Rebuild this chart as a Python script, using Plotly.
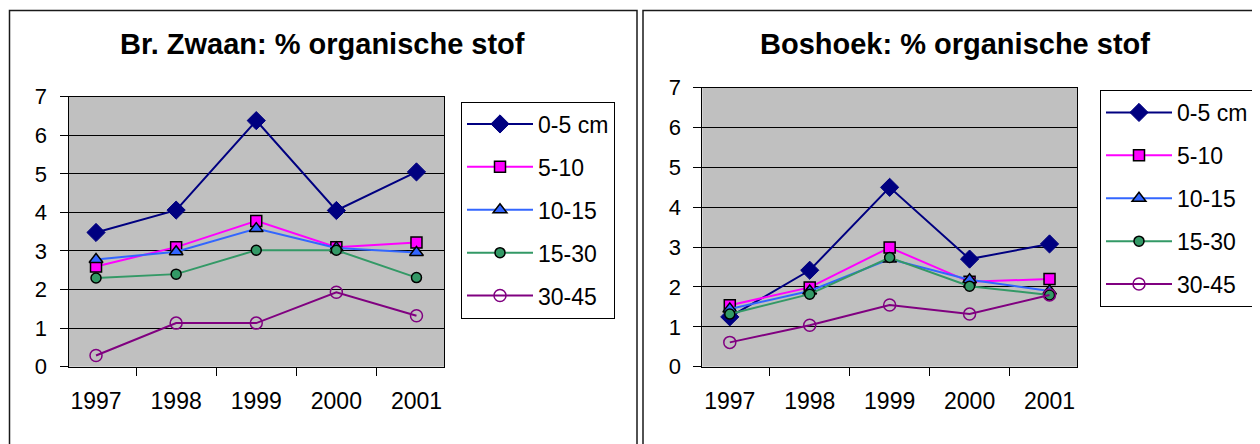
import plotly.graph_objects as go

years = ["1997", "1998", "1999", "2000", "2001"]
series_names = ["0-5 cm", "5-10", "10-15", "15-30", "30-45"]

zwaan_0_5 = [3.48, 4.06, 6.38, 4.05, 5.05]
zwaan_5_10 = [2.6, 3.1, 3.78, 3.1, 3.22]
zwaan_10_15 = [2.78, 2.98, 3.58, 3.08, 2.96]
zwaan_15_30 = [2.3, 2.4, 3.02, 3.02, 2.31]
zwaan_30_45 = [0.29, 1.13, 1.13, 1.93, 1.32]

boshoek_0_5 = [1.25, 2.42, 4.5, 2.7, 3.08]
boshoek_5_10 = [1.54, 1.99, 2.99, 2.13, 2.2]
boshoek_10_15 = [1.45, 1.9, 2.7, 2.18, 1.9]
boshoek_15_30 = [1.32, 1.82, 2.74, 2.02, 1.8]
boshoek_30_45 = [0.61, 1.04, 1.55, 1.32, 1.8]

titles = ["Br. Zwaan: % organische stof", "Boshoek: % organische stof"]

# page has an 8px body margin; the figure fills the rest of the 1260x444 window
OFF = 8
W, H = 1260 - OFF, 444 - OFF
FONT = "Liberation Sans, Arial, sans-serif"

styles = [
    dict(line=dict(color="#000080", width=2),
         marker=dict(symbol="diamond", size=14, color="#000080", line=dict(color="#000080", width=1))),
    dict(line=dict(color="#FF00FF", width=2),
         marker=dict(symbol="square", size=11, color="#FF00FF", line=dict(color="#000000", width=1.5))),
    dict(line=dict(color="#3366FF", width=2),
         marker=dict(symbol="triangle-up", size=12, color="#3366FF", line=dict(color="#000000", width=1.5))),
    dict(line=dict(color="#339966", width=2),
         marker=dict(symbol="circle", size=10, color="#339966", line=dict(color="#000000", width=1.5))),
    dict(line=dict(color="#800080", width=2),
         marker=dict(symbol="circle-open", size=12, color="#800080", line=dict(color="#800080", width=1.5))),
]

fig = go.Figure()

panels = [
    ([zwaan_0_5, zwaan_5_10, zwaan_10_15, zwaan_15_30, zwaan_30_45], "x", "y", "legend"),
    ([boshoek_0_5, boshoek_5_10, boshoek_10_15, boshoek_15_30, boshoek_30_45], "x2", "y2", "legend2"),
]

for p, (data, xa, ya, lg) in enumerate(panels):
    for i, (name, vals) in enumerate(zip(series_names, data)):
        fig.add_trace(go.Scatter(
            x=years, y=vals, name=name, mode="lines+markers",
            xaxis=xa, yaxis=ya, legend=lg, legendgroup=f"{p}-{i}",
            line=styles[i]["line"], marker=styles[i]["marker"],
        ))

def px_x(v):
    return (v - OFF) / W

def px_y(v):
    return 1 - (v - OFF) / H

axis_common = dict(showgrid=False, showline=True, linecolor="#000000", linewidth=1,
                   mirror=True, ticks="outside", ticklen=8, tickcolor="#000000", automargin=False,
                   tickfont=dict(family=FONT, size=23, color="#000000"))
yaxis_common = dict(range=[0, 7], dtick=1, tick0=0, showgrid=True, gridcolor="#000000",
                    gridwidth=1, showline=True, linecolor="#000000", linewidth=1, mirror=True,
                    ticks="outside", ticklen=8, tickcolor="#000000", zeroline=False,
                    ticklabelstandoff=8, automargin=False,
                    tickfont=dict(family=FONT, size=22, color="#000000"))

legend_common = dict(xanchor="left", yanchor="top",
                     bgcolor="#FFFFFF", bordercolor="#000000", borderwidth=1,
                     font=dict(family=FONT, size=23, color="#000000"),
                     itemwidth=66, tracegroupgap=10, traceorder="grouped")

fig.update_layout(
    template="none",
    width=W, height=H,
    margin=dict(l=0, r=0, t=0, b=0, pad=0, autoexpand=False),
    paper_bgcolor="#FFFFFF",
    plot_bgcolor="#C0C0C0",
    showlegend=True,
    xaxis=dict(domain=[px_x(68.5), px_x(444)], anchor="y", type="category",
               tickson="boundaries", ticklabelstandoff=14, **axis_common),
    yaxis=dict(domain=[px_y(366.7), px_y(96.7)], anchor="x", **yaxis_common),
    xaxis2=dict(domain=[px_x(702.3), px_x(1077)], anchor="y2", type="category",
                tickson="boundaries", ticklabelstandoff=14, **axis_common),
    yaxis2=dict(domain=[px_y(366.7), px_y(87.7)], anchor="x2", **yaxis_common),
    legend=dict(x=px_x(461), y=px_y(101.5), **legend_common),
    legend2=dict(x=px_x(1100), y=px_y(90), **legend_common),
    shapes=[
        dict(type="rect", xref="paper", yref="paper", x0=px_x(9.5), x1=px_x(637),
             y0=px_y(460), y1=px_y(10.5), line=dict(color="#1A1A1A", width=1.5)),
        dict(type="rect", xref="paper", yref="paper", x0=px_x(643), x1=px_x(1275),
             y0=px_y(460), y1=px_y(10.5), line=dict(color="#1A1A1A", width=1.5)),
    ],
    annotations=[
        dict(text=f"<b>{titles[0]}</b>", xref="paper", yref="paper", x=px_x(322), y=px_y(44),
             xanchor="center", yanchor="middle", showarrow=False,
             font=dict(family=FONT, size=29, color="#000000")),
        dict(text=f"<b>{titles[1]}</b>", xref="paper", yref="paper", x=px_x(955), y=px_y(44),
             xanchor="center", yanchor="middle", showarrow=False,
             font=dict(family=FONT, size=29, color="#000000")),
    ],
)

fig.write_html("out.html")
